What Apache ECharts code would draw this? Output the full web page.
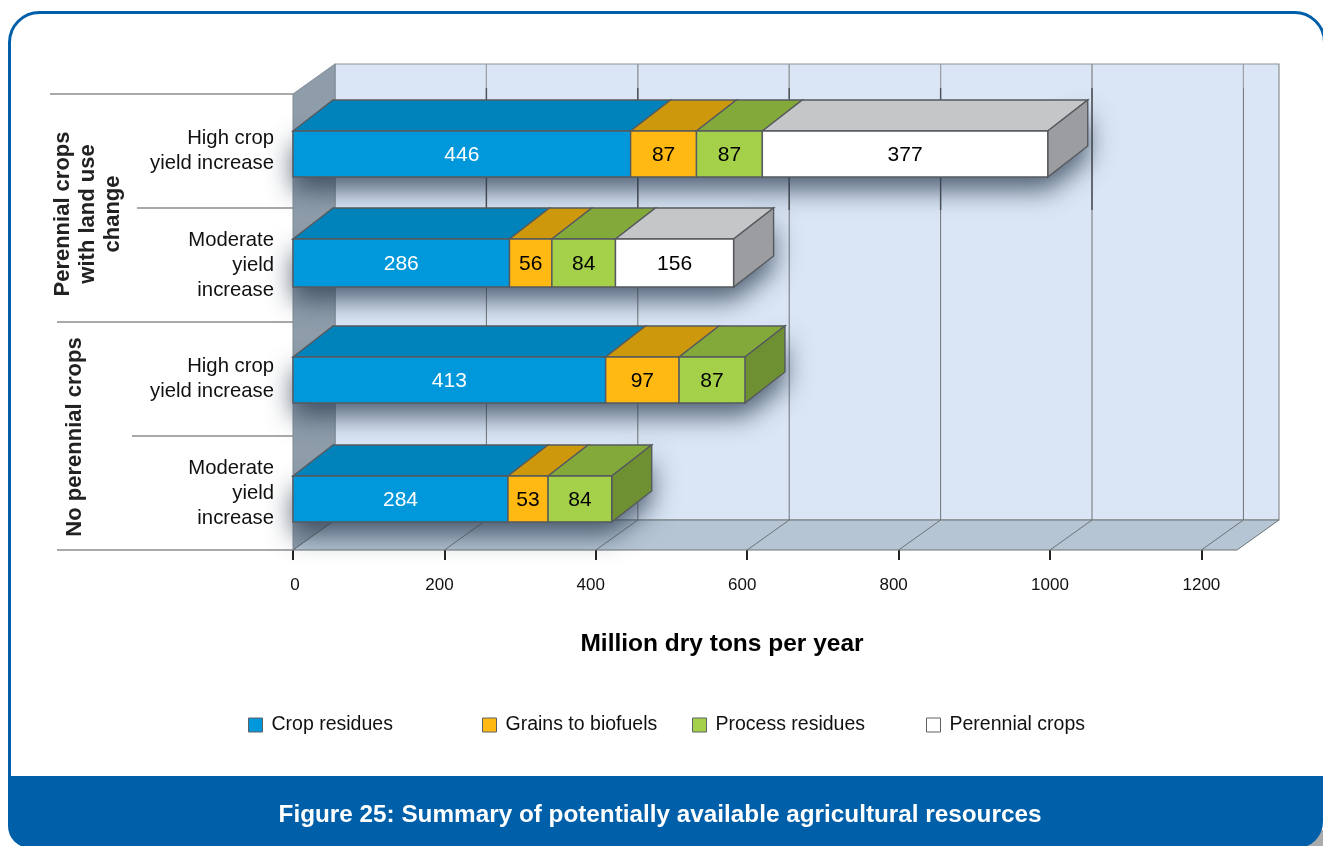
<!DOCTYPE html>
<html><head><meta charset="utf-8">
<style>html,body{margin:0;padding:0;background:#fff}#c{width:1323px;height:846px}</style>
<script src="https://cdn.jsdelivr.net/npm/echarts@6/dist/echarts.min.js"></script>
</head><body><div id="c"></div>
<script>
// ---- data ----
const categories = ['High crop\nyield increase', 'Moderate\nyield\nincrease', 'High crop\nyield increase', 'Moderate\nyield\nincrease'];
const cropResidues = [446, 286, 413, 284];
const grainsToBiofuels = [87, 56, 97, 53];
const processResidues = [87, 84, 87, 84];
const perennialCrops = [377, 156, 0, 0];
const xTicks = [0, 200, 400, 600, 800, 1000, 1200];
const xAxisMax = 1247;
const xTitle = 'Million dry tons per year';
const figureTitle = 'Figure 25: Summary of potentially available agricultural resources';

// ---- drawing styles ----
const FONT = '"Liberation Sans", Arial, sans-serif';
const DX = 42, DY = 30;               // 3D depth of the walls
const BX = 40, BY = 31;               // 3D depth of the bars
const barNudge = [3, -2, 1, 6];       // the bars are not quite centred in their bands
const barHeight = [46, 48, 46, 46];
const EDGE = '#565a5e';
const styles = [
  {name:'Crop residues',    values:cropResidues,     front:'#0098DB', top:'#0083BB', side:'#00699a', text:'#fff', legendLeft:243},
  {name:'Grains to biofuels',values:grainsToBiofuels, front:'#FFB912', top:'#CE980D', side:'#a87c0a', text:'#000', legendLeft:477},
  {name:'Process residues', values:processResidues,  front:'#A5D04A', top:'#84A93B', side:'#6F9032', text:'#000', legendLeft:687},
  {name:'Perennial crops',  values:perennialCrops,   front:'#FFFFFF', top:'#C5C6C8', side:'#9C9DA0', text:'#000', legendLeft:921}
];
const totals = categories.map((_, i) => styles.reduce((s, d) => s + d.values[i], 0));

function poly(points, fill, stroke, w) {
  return {type:'polygon', shape:{points}, style:{fill, stroke: stroke || 'none', lineWidth: w === undefined ? 1 : w}, silent:true};
}
function line(x1, y1, x2, y2, stroke, w) {
  return {type:'line', shape:{x1,y1,x2,y2}, style:{stroke, lineWidth:w || 1}, silent:true};
}

// walls, floor, gridlines and the row separators of the two-level axis
function renderFrame(params, api) {
  const band = api.size([0, 1])[1];
  const top = api.coord([0, 0])[1] - band / 2;
  const bottom = api.coord([0, 3])[1] + band / 2;
  const x0 = api.coord([0, 0])[0];
  const xEnd = api.coord([xAxisMax, 0])[0];
  const ch = [];
  ch.push(poly([[x0 + DX, top - DY], [xEnd + DX, top - DY], [xEnd + DX, bottom - DY], [x0 + DX, bottom - DY]], '#DAE6F5', '#8b8f93', 1.2));
  ch.push(poly([[x0, top], [x0 + DX, top - DY], [x0 + DX, bottom - DY], [x0, bottom]], '#8F9DAB', '#7e8a96', 1));
  ch.push(poly([[x0, bottom], [x0 + DX, bottom - DY], [xEnd + DX, bottom - DY], [xEnd, bottom]], '#B5C5D4', '#6f7377', 1));
  xTicks.forEach(v => {
    const x = api.coord([v, 0])[0];
    if (v > 0) {
      ch.push(line(x + DX, top - DY, x + DX, bottom - DY, '#6f7377', 1));
      ch.push(line(x + DX, top - DY, x + DX, top - 6, '#a3a6a9', 1));
      if (v <= 1000) ch.push(line(x + DX, top - 6, x + DX, top + band + 2, '#4d5054', 1.4));
    }
    ch.push(line(x, bottom, x + DX, bottom - DY, '#6f7377', 1));
  });
  // separators, left ends follow the merged group cells
  [[50, 0], [137, 1], [57, 2], [132, 3], [57, 4]].forEach(([left, k]) => {
    const y = top + k * band;
    ch.push(line(left, y, x0, y, '#8b8d90', 1.6));
  });
  return {type:'group', children:ch};
}

// soft shadow cast by each whole bar
function renderShadow(params, api) {
  const i = api.value(1);
  const c = api.coord([0, i]), e = api.coord([api.value(0), i]);
  const h = barHeight[i], y = c[1] + barNudge[i];
  return {
    type:'polygon',
    shape:{points:[[c[0], y - h / 2], [e[0], y - h / 2], [e[0] + BX, y - h / 2 - BY], [e[0] + BX, y + h / 2 - BY], [e[0], y + h / 2], [c[0], y + h / 2]]},
    style:{fill:'#6b7f94', shadowBlur:26, shadowOffsetX:0, shadowOffsetY:13, shadowColor:'rgba(45,62,82,0.8)'},
    silent:true
  };
}

// one segment of a 3D bar: top face, front face, end face on the last one, value label
function renderSegment(st) {
  return function (params, api) {
    const i = api.value(2);
    const a = api.coord([api.value(0), i]), b = api.coord([api.value(1), i]);
    const h = barHeight[i], yc = a[1] + barNudge[i];
    const yT = yc - h / 2, yB = yc + h / 2;
    const ch = [];
    ch.push(poly([[a[0], yT], [b[0], yT], [b[0] + BX, yT - BY], [a[0] + BX, yT - BY]], st.top, EDGE, 1.4));
    if (api.value(1) === totals[i]) {
      ch.push(poly([[b[0], yT], [b[0] + BX, yT - BY], [b[0] + BX, yB - BY], [b[0], yB]], st.side, EDGE, 1.4));
    }
    ch.push(poly([[a[0], yT], [b[0], yT], [b[0], yB], [a[0], yB]], st.front, EDGE, 1.4));
    ch.push({type:'text', silent:true, style:{
      text:String(api.value(1) - api.value(0)), x:(a[0] + b[0]) / 2, y:yc + 1,
      align:'center', verticalAlign:'middle', fill:st.text, font:'21px ' + FONT
    }});
    return {type:'group', children:ch};
  };
}

const segmentSeries = styles.map((st, k) => {
  const data = [];
  categories.forEach((_, i) => {
    if (!st.values[i]) return;
    let start = 0;
    for (let j = 0; j < k; j++) start += styles[j].values[i];
    data.push([start, start + st.values[i], i]);
  });
  return {
    type:'custom', name:st.name, z:5, data, encode:{x:[0, 1], y:2}, clip:false, silent:true,
    itemStyle:{color:st.front}, renderItem:renderSegment(st)
  };
});

const legends = styles.map(st => ({
  left:st.legendLeft, top:710, orient:'horizontal', selectedMode:false,
  itemWidth:14, itemHeight:14,
  data:[{name:st.name, icon:'rect', itemStyle:{color:st.front, borderColor:'#5d6165', borderWidth:1}}],
  textStyle:{fontFamily:FONT, fontSize:19.5, color:'#111', padding:[0, 0, 0, 4]}
}));

const chart = echarts.init(document.getElementById('c'), null, {renderer:'canvas'});
chart.setOption({
  backgroundColor:'#fff',
  animation:false,
  title:{
    text:figureTitle, left:655, top:798, textAlign:'center',
    textStyle:{color:'#fff', fontFamily:FONT, fontWeight:'bold', fontSize:24.3}
  },
  legend:legends,
  grid:{left:293, top:94, width:944, height:456, containLabel:false},
  xAxis:{
    type:'value', min:0, max:xAxisMax, interval:200,
    name:xTitle, nameLocation:'middle', nameGap:82,
    nameTextStyle:{fontFamily:FONT, fontWeight:'bold', fontSize:24.5, color:'#000', padding:[0, 86, 0, 0]},
    axisLine:{show:false},
    axisTick:{show:true, length:10, customValues:xTicks, lineStyle:{color:'#222', width:2}},
    splitLine:{show:false},
    axisLabel:{
      customValues:xTicks, margin:27, color:'#111', fontFamily:FONT, fontSize:17,
      formatter:v => (v > 0 && v < 1000) ? '{s|' + v + '}' : (v === 0 ? '{z|0}' : String(v)),
      rich:{
        s:{fontFamily:FONT, fontSize:17, color:'#111', padding:[0, 10, 0, 0]},
        z:{fontFamily:FONT, fontSize:17, color:'#111', padding:[0, 0, 0, 4]}
      }
    }
  },
  yAxis:{
    type:'category', inverse:true, data:categories,
    axisLine:{show:false}, axisTick:{show:false}, splitLine:{show:false},
    axisLabel:{margin:19, color:'#111', fontFamily:FONT, fontSize:20.3, lineHeight:25, align:'right', padding:[0, 0, 14, 0]}
  },
  graphic:{elements:[
    {type:'rect', z:-10, shape:{x:1300, y:830, width:23, height:16}, style:{fill:'#a9abad'}},
    {type:'rect', z:-9, shape:{x:9.5, y:12.5, width:1315, height:800, r:30}, style:{fill:'#fff', stroke:'#005FA9', lineWidth:3}},
    {type:'rect', z:-8, shape:{x:8, y:776, width:1315, height:72, r:[0, 0, 26, 22]}, style:{fill:'#005FA9'}},
    {type:'text', z:10, x:88, y:214, rotation:Math.PI / 2, style:{text:'Perennial crops\nwith land use\nchange', align:'center', verticalAlign:'middle', textAlign:'center', fill:'#222', font:'bold 22px ' + FONT, lineHeight:25}},
    {type:'text', z:10, x:75, y:437, rotation:Math.PI / 2, style:{text:'No perennial crops', align:'center', verticalAlign:'middle', fill:'#222', font:'bold 22px ' + FONT}}
  ]},
  series:[
    {type:'custom', name:'frame', z:1, clip:false, silent:true, data:[[0, 0]], encode:{x:0, y:1}, renderItem:renderFrame},
    {type:'custom', name:'shadow', z:2, clip:false, silent:true, data:totals.map((t, i) => [t, i]), encode:{x:0, y:1}, renderItem:renderShadow},
    ...segmentSeries
  ]
});
</script></body></html>
